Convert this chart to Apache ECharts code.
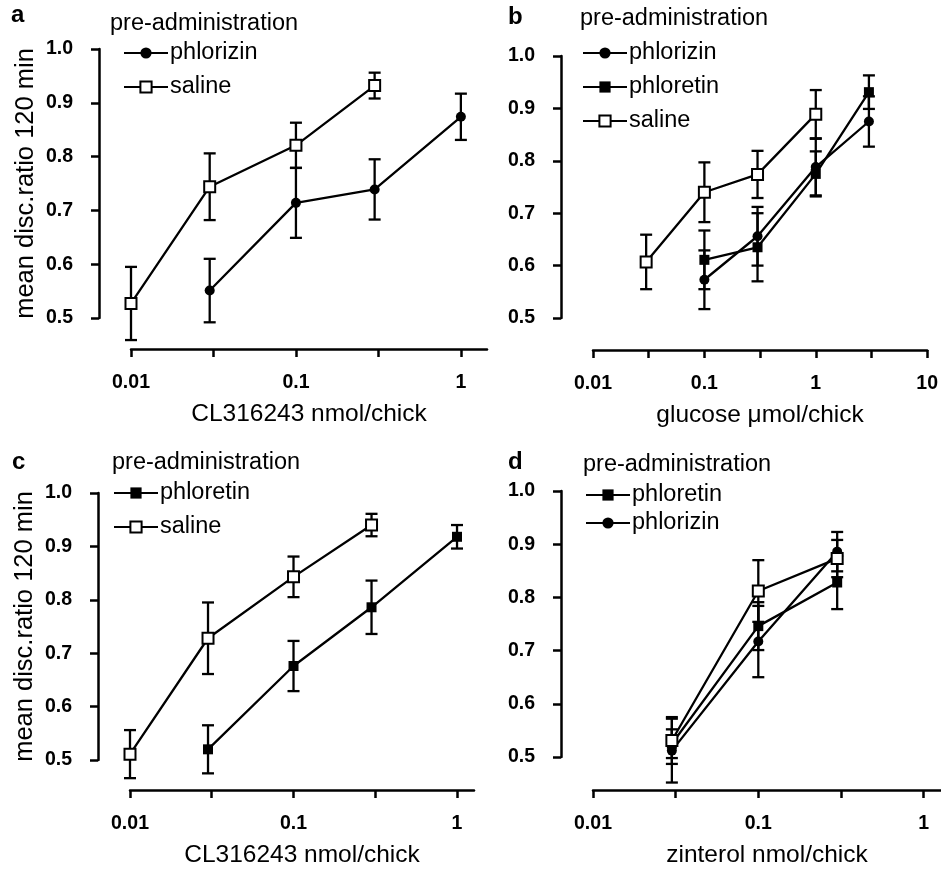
<!DOCTYPE html>
<html>
<head>
<meta charset="utf-8">
<script src="https://cdn.jsdelivr.net/npm/echarts@6/dist/echarts.min.js"></script>
<style>
  html, body { margin: 0; padding: 0; background: #fff; }
  #chart { width: 941px; height: 869px; }
</style>
</head>
<body>
<div id="chart"></div>
<script>
const FONT = "Liberation Sans"

// tick values (log x axes)
const xTicks = [0.01, 0.0316, 0.1, 0.316, 1, 3.16, 10]
const xLabels = [0.01, 0.1, 1, 10]

// panel a: CL316243
const aPhlorizinDose = [0.03, 0.1, 0.3, 1]
const aPhlorizinMean = [0.551, 0.714, 0.739, 0.874]
const aPhlorizinSem = [0.059, 0.065, 0.056, 0.043]
const aSalineDose = [0.01, 0.03, 0.1, 0.3]
const aSalineMean = [0.527, 0.744, 0.821, 0.932]
const aSalineSem = [0.068, 0.062, 0.042, 0.024]

// panel b: glucose
const bPhlorizinDose = [0.1, 0.3, 1, 3]
const bPhlorizinMean = [0.573, 0.656, 0.788, 0.875]
const bPhlorizinSem = [0.056, 0.056, 0.054, 0.048]
const bPhloretinDose = [0.1, 0.3, 1, 3]
const bPhloretinMean = [0.611, 0.635, 0.775, 0.931]
const bPhloretinSem = [0.056, 0.065, 0.043, 0.032]
const bSalineDose = [0.03, 0.1, 0.3, 1]
const bSalineMean = [0.607, 0.740, 0.774, 0.889]
const bSalineSem = [0.052, 0.057, 0.045, 0.046]

// panel c: CL316243
const cPhloretinDose = [0.03, 0.1, 0.3, 1]
const cPhloretinMean = [0.520, 0.676, 0.786, 0.918]
const cPhloretinSem = [0.045, 0.047, 0.050, 0.022]
const cSalineDose = [0.01, 0.03, 0.1, 0.3]
const cSalineMean = [0.511, 0.728, 0.843, 0.940]
const cSalineSem = [0.045, 0.067, 0.038, 0.021]

// panel d: zinterol (open squares have no legend entry in the original)
const dPhloretinDose = [0.03, 0.1, 0.3]
const dPhloretinMean = [0.525, 0.746, 0.828]
const dPhloretinSem = [0.027, 0.045, 0.050]
const dPhlorizinDose = [0.03, 0.1, 0.3]
const dPhlorizinMean = [0.512, 0.717, 0.886]
const dPhlorizinSem = [0.060, 0.067, 0.037]
const dSalineDose = [0.03, 0.1, 0.3]
const dSalineMean = [0.531, 0.812, 0.873]
const dSalineSem = [0.044, 0.058, 0.035]

const markers = {
  phlorizin: { symbol: "circle", symbolSize: 10, itemStyle: { color: "#000", borderWidth: 0 } },
  phloretin: { symbol: "rect", symbolSize: 10, itemStyle: { color: "#000", borderWidth: 0 } },
  saline: { symbol: "rect", symbolSize: 11, itemStyle: { color: "#fff", borderColor: "#000", borderWidth: 2 } }
}

function renderErrorBar(params, api) {
  const x = api.value(0)
  const m = api.value(1)
  const s = api.value(2)
  const hi = api.coord([x, m + s])
  const lo = api.coord([x, m - s])
  const half = 6
  const style = { stroke: "#000", lineWidth: 2.3 }
  return {
    type: "group",
    children: [
      { type: "line", shape: { x1: hi[0], y1: hi[1], x2: lo[0], y2: lo[1] }, style },
      { type: "line", shape: { x1: hi[0] - half, y1: hi[1], x2: hi[0] + half, y2: hi[1] }, style },
      { type: "line", shape: { x1: lo[0] - half, y1: lo[1], x2: lo[0] + half, y2: lo[1] }, style }
    ]
  }
}

function pairs(dose, mean) {
  return dose.map((d, i) => [d, mean[i]])
}

function addSeries(list, idx, name, dose, mean, sem) {
  list.push({
    name: name + "-err-" + idx,
    type: "custom",
    xAxisIndex: idx,
    yAxisIndex: idx,
    renderItem: renderErrorBar,
    encode: { x: 0, y: 1 },
    z: 2,
    silent: true,
    data: dose.map((d, i) => [d, mean[i], sem[i]])
  })
  list.push(Object.assign({
    name,
    type: "line",
    xAxisIndex: idx,
    yAxisIndex: idx,
    z: 3,
    lineStyle: { color: "#000", width: 2.3 },
    data: pairs(dose, mean)
  }, markers[name]))
}

const series = []
addSeries(series, 0, "phlorizin", aPhlorizinDose, aPhlorizinMean, aPhlorizinSem)
addSeries(series, 0, "saline", aSalineDose, aSalineMean, aSalineSem)
addSeries(series, 1, "phlorizin", bPhlorizinDose, bPhlorizinMean, bPhlorizinSem)
addSeries(series, 1, "phloretin", bPhloretinDose, bPhloretinMean, bPhloretinSem)
addSeries(series, 1, "saline", bSalineDose, bSalineMean, bSalineSem)
addSeries(series, 2, "phloretin", cPhloretinDose, cPhloretinMean, cPhloretinSem)
addSeries(series, 2, "saline", cSalineDose, cSalineMean, cSalineSem)
addSeries(series, 3, "phloretin", dPhloretinDose, dPhloretinMean, dPhloretinSem)
addSeries(series, 3, "phlorizin", dPhlorizinDose, dPhlorizinMean, dPhlorizinSem)
addSeries(series, 3, "saline", dSalineDose, dSalineMean, dSalineSem)

const grids = [
  { left: 131, top: 49, width: 356, height: 269 },
  { left: 593, top: 56, width: 338, height: 262 },
  { left: 130, top: 493, width: 344, height: 267 },
  { left: 593, top: 491, width: 348, height: 267 }
]
const xMax = [1.44, 10, 1.27, 1.274]
const xOffset = [31, 32, 30, 33]
const xNames = ["CL316243 nmol/chick", "glucose \u03bcmol/chick", "CL316243 nmol/chick", "zinterol nmol/chick"]
const yNames = ["mean disc.ratio 120 min", "", "mean disc.ratio 120 min", ""]

const axisLine = { show: true, lineStyle: { color: "#000", width: 2.5 } }

const xAxis = grids.map((g, i) => ({
  type: "log",
  gridIndex: i,
  min: 0.01,
  max: xMax[i],
  offset: xOffset[i],
  axisLine,
  axisTick: { show: true, length: 8, customValues: xTicks.filter(t => t <= xMax[i]), lineStyle: { color: "#000", width: 2.5 } },
  axisLabel: {
    customValues: xLabels.filter(t => t <= xMax[i]),
    formatter: v => String(+(+v).toPrecision(3)),
    color: "#000",
    fontFamily: FONT,
    fontWeight: "bold",
    fontSize: 19.5,
    margin: 24
  },
  splitLine: { show: false },
  name: xNames[i],
  nameLocation: "middle",
  nameGap: 53,
  nameTextStyle: { color: "#000", fontFamily: FONT, fontSize: 24.5 }
}))

const yAxis = grids.map((g, i) => ({
  type: "value",
  gridIndex: i,
  min: 0.5,
  max: 1.0,
  interval: 0.1,
  offset: 32,
  axisLine,
  axisTick: { show: true, length: 8, lineStyle: { color: "#000", width: 2.5 } },
  axisLabel: {
    formatter: v => v.toFixed(1),
    color: "#000",
    fontFamily: FONT,
    fontWeight: "bold",
    fontSize: 19.5,
    margin: 26
  },
  splitLine: { show: false },
  name: yNames[i],
  nameLocation: "middle",
  nameGap: 60,
  nameTextStyle: { color: "#000", fontFamily: FONT, fontSize: 25.5 }
}))

const textStyle = { color: "#000", fontFamily: FONT, fontSize: 23.5, fontWeight: "normal" }
const letterStyle = { color: "#000", fontFamily: FONT, fontSize: 24, fontWeight: "bold" }

const title = [
  { text: "a", left: 11, top: 3, padding: 0, textStyle: letterStyle },
  { text: "pre-administration", left: 110, top: 12, padding: 0, textStyle },
  { text: "b", left: 508, top: 5, padding: 0, textStyle: letterStyle },
  { text: "pre-administration", left: 580, top: 7, padding: 0, textStyle },
  { text: "c", left: 12, top: 450, padding: 0, textStyle: letterStyle },
  { text: "pre-administration", left: 112, top: 451, padding: 0, textStyle },
  { text: "d", left: 508, top: 450, padding: 0, textStyle: letterStyle },
  { text: "pre-administration", left: 583, top: 453, padding: 0, textStyle }
]

function legendAt(left, top, gap, names) {
  return {
    orient: "vertical",
    left,
    top,
    padding: 0,
    itemGap: gap,
    itemWidth: 44,
    itemHeight: 14,
    itemStyle: { borderWidth: 2 },
    selectedMode: false,
    textStyle: Object.assign({ padding: [0, 0, 0, -3], lineHeight: 26 }, textStyle),
    data: names
  }
}

const legend = [
  legendAt(123, 40, 8, ["phlorizin", "saline"]),
  legendAt(582, 40, 8, ["phlorizin", "phloretin", "saline"]),
  legendAt(113, 480, 8, ["phloretin", "saline"]),
  legendAt(585, 482, 2, ["phloretin", "phlorizin"])
]

const chart = echarts.init(document.getElementById("chart"), null, { renderer: "canvas" })
chart.setOption({
  backgroundColor: "#fff",
  animation: false,
  title,
  legend,
  grid: grids,
  xAxis,
  yAxis,
  series
})
</script>
</body>
</html>
